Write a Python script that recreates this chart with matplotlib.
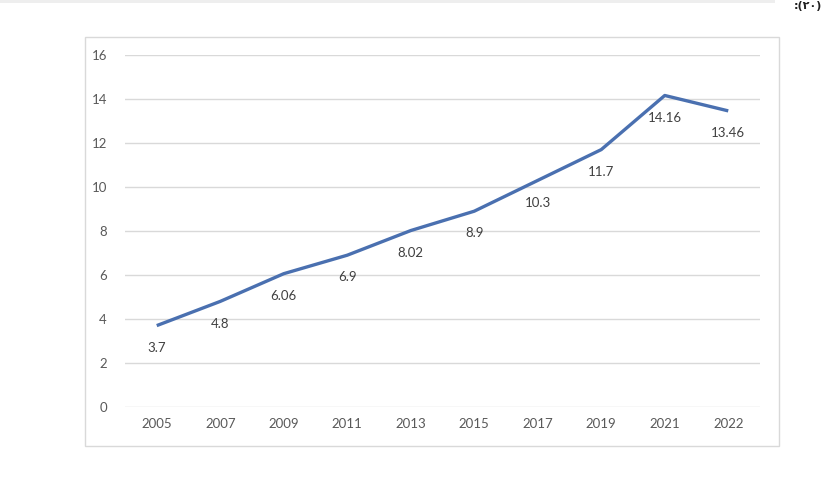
import matplotlib
matplotlib.use("Agg")
import matplotlib.pyplot as plt
from matplotlib.patches import Rectangle

years = ["2005", "2007", "2009", "2011", "2013", "2015", "2017", "2019", "2021", "2022"]
values = [3.7, 4.8, 6.06, 6.9, 8.02, 8.9, 10.3, 11.7, 14.16, 13.46]
labels = ["3.7", "4.8", "6.06", "6.9", "8.02", "8.9", "10.3", "11.7", "14.16", "13.46"]
yticks = [0, 2, 4, 6, 8, 10, 12, 14, 16]

plt.rcParams['font.family'] = ['Lato', 'DejaVu Sans']
W, H = 824, 478
fig = plt.figure(figsize=(W / 100, H / 100), dpi=100)

# outer chart frame
fig.patches.append(Rectangle((85 / W, 1 - 446 / H), (779 - 85) / W, (446 - 37) / H,
                             transform=fig.transFigure, fill=False,
                             edgecolor="#D9D9D9", linewidth=1.0))
# faint top band
fig.patches.append(Rectangle((0, 1 - 3 / H), 775 / W, 3 / H, transform=fig.transFigure,
                             color="#EEEEEE", linewidth=0))

ax = fig.add_axes([125 / W, 1 - 407 / H, (760 - 125) / W, (407 - 55) / H])
x = [i + 0.5 for i in range(len(years))]
ax.plot(x, values, color="#4A70B0", linewidth=2.4, solid_capstyle="butt", zorder=3)
for xi, v, lab in zip(x, values, labels):
    ax.annotate(lab, (xi, v), xytext=(0, -16), textcoords="offset points",
                ha="center", va="center", fontsize=9.5, color="#404040")

ax.set_xlim(0, len(years))
ax.set_ylim(0, 16)
ax.set_yticks(yticks)
ax.set_xticks(x)
ax.set_xticklabels(years)
ax.yaxis.grid(True, color="#D9D9D9", linewidth=1.0)
ax.set_axisbelow(True)
for s in ax.spines.values():
    s.set_visible(False)
ax.tick_params(axis="both", length=0, labelsize=9.5, labelcolor="#595959")
ax.tick_params(axis="y", pad=13)
ax.tick_params(axis="x", pad=8)

fig.text(822 / W, 1 - 6 / H, ":(۲۰)", ha="right", va="center", fontsize=8,
         fontweight="bold", color="#222222", family=["DejaVu Sans"])

fig.savefig("out.png", dpi=100)
